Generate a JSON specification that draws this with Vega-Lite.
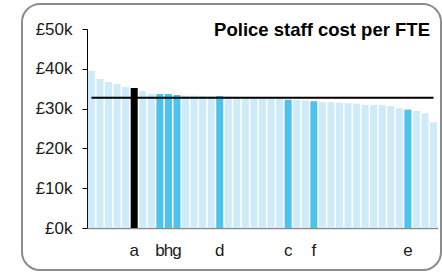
{
  "$schema": "https://vega.github.io/schema/vega-lite/v6.json",
  "width": 419,
  "height": 266,
  "autosize": "none",
  "padding": {"left": 22, "top": 4, "right": 1, "bottom": 3},
  "background": "white",
  "config": {
    "view": {"stroke": "#8c8c8c", "strokeWidth": 2, "cornerRadius": 18},
    "font": "Liberation Sans"
  },
  "title": {
    "text": "Police staff cost per FTE",
    "anchor": "end",
    "orient": "top",
    "offset": -50,
    "baseline": "alphabetic",
    "dx": -11,
    "fontSize": 18.5,
    "fontWeight": "bold",
    "font": "Liberation Sans",
    "color": "#000000"
  },
  "datasets": {
    "bars": [
      {"key": "01", "value": 39450, "type": "other"},
      {"key": "02", "value": 37450, "type": "other"},
      {"key": "03", "value": 36700, "type": "other"},
      {"key": "04", "value": 36200, "type": "other"},
      {"key": "05", "value": 35450, "type": "other"},
      {"key": "06a", "value": 35200, "type": "self"},
      {"key": "07", "value": 34450, "type": "other"},
      {"key": "08", "value": 33750, "type": "other"},
      {"key": "09b", "value": 33650, "type": "peer"},
      {"key": "10h", "value": 33650, "type": "peer"},
      {"key": "11g", "value": 33400, "type": "peer"},
      {"key": "12", "value": 33250, "type": "other"},
      {"key": "13", "value": 33250, "type": "other"},
      {"key": "14", "value": 33150, "type": "other"},
      {"key": "15", "value": 33100, "type": "other"},
      {"key": "16d", "value": 33150, "type": "peer"},
      {"key": "17", "value": 33050, "type": "other"},
      {"key": "18", "value": 33000, "type": "other"},
      {"key": "19", "value": 32900, "type": "other"},
      {"key": "20", "value": 32850, "type": "other"},
      {"key": "21", "value": 32800, "type": "other"},
      {"key": "22", "value": 32750, "type": "other"},
      {"key": "23", "value": 32650, "type": "other"},
      {"key": "24c", "value": 32250, "type": "peer"},
      {"key": "25", "value": 32150, "type": "other"},
      {"key": "26", "value": 32050, "type": "other"},
      {"key": "27f", "value": 31850, "type": "peer"},
      {"key": "28", "value": 31650, "type": "other"},
      {"key": "29", "value": 31650, "type": "other"},
      {"key": "30", "value": 31500, "type": "other"},
      {"key": "31", "value": 31350, "type": "other"},
      {"key": "32", "value": 31250, "type": "other"},
      {"key": "33", "value": 30900, "type": "other"},
      {"key": "34", "value": 30900, "type": "other"},
      {"key": "35", "value": 30900, "type": "other"},
      {"key": "36", "value": 30600, "type": "other"},
      {"key": "37", "value": 30100, "type": "other"},
      {"key": "38e", "value": 29750, "type": "peer"},
      {"key": "39", "value": 29400, "type": "other"},
      {"key": "40", "value": 28800, "type": "other"},
      {"key": "41", "value": 26550, "type": "other"}
    ],
    "mean": [
      {"first": "01", "last": "41", "mean": 32700}
    ]
  },
  "layer": [
    {
      "data": {"name": "bars"},
      "mark": {"type": "bar"},
      "encoding": {
        "x": {
          "field": "key",
          "type": "ordinal",
          "sort": "ascending",
          "scale": {"range": [65.5, 415.5], "paddingInner": 0.18, "paddingOuter": 0.05},
          "axis": {
            "title": null,
            "orient": "bottom",
            "offset": -42,
            "domainColor": "#8c8c8c",
            "domainWidth": 1.5,
            "ticks": false,
            "tickSize": 0,
            "labelPadding": 14,
            "labelAngle": 0,
            "labelFontSize": 17,
            "labelColor": "#1a1a1a",
            "labelFont": "Liberation Sans",
            "labelExpr": "substring(datum.value, 2)"
          }
        },
        "y": {
          "field": "value",
          "type": "quantitative",
          "scale": {"domain": [0, 50000], "range": [224, 25], "nice": false},
          "axis": {
            "title": null,
            "offset": -65,
            "values": [0, 10000, 20000, 30000, 40000, 50000],
            "labelExpr": "'£' + (datum.value / 1000) + 'k'",
            "grid": false,
            "domainColor": "#000000",
            "tickColor": "#000000",
            "tickSize": 5,
            "labelPadding": 10,
            "labelFontSize": 17,
            "labelColor": "#1a1a1a",
            "labelFont": "Liberation Sans"
          }
        },
        "color": {
          "field": "type",
          "type": "nominal",
          "scale": {"domain": ["other", "peer", "self"], "range": ["#cdebf9", "#4cc2ec", "#000000"]},
          "legend": null
        }
      }
    },
    {
      "data": {"name": "mean"},
      "mark": {"type": "rule", "color": "#000000", "strokeWidth": 2},
      "encoding": {
        "x": {"field": "first", "type": "ordinal"},
        "x2": {"field": "last"},
        "y": {"field": "mean", "type": "quantitative"}
      }
    }
  ]
}
